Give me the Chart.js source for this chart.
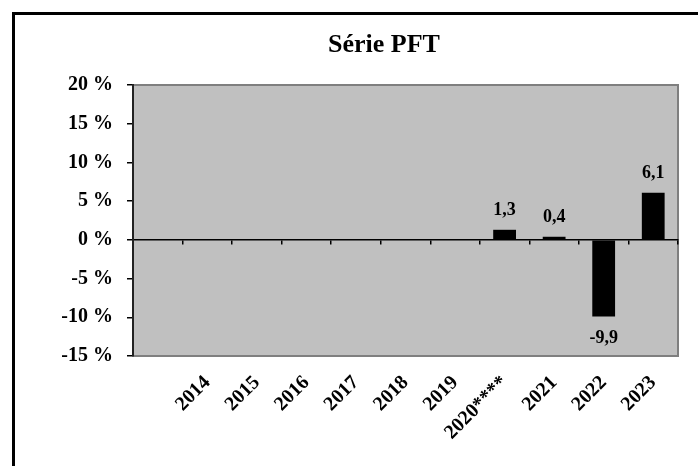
<!DOCTYPE html>
<html>
<head>
<meta charset="utf-8">
<script src="https://cdn.jsdelivr.net/npm/chart.js@4.4.1/dist/chart.umd.min.js"></script>
<style>
  html, body { margin: 0; padding: 0; background: #fff; }
  #wrap { position: relative; width: 698px; height: 466px; overflow: hidden; }
  #frame { position: absolute; left: 12px; top: 12px; width: 800px; height: 800px;
           border-left: 3px solid #000; border-top: 3px solid #000; pointer-events: none; }
  canvas { position: absolute; left: 0; top: 0; }
</style>
</head>
<body>
<div id="wrap">
  <canvas id="c" width="698" height="466"></canvas>
  <div id="frame"></div>
</div>
<script>
const chartTitle = "Série PFT";
const categories = ["", "2014", "2015", "2016", "2017", "2018", "2019", "2020****", "2021", "2022", "2023"];
const pftValues = [null, null, null, null, null, null, null, 1.3, 0.4, -9.9, 6.1];
const yTickValues = [-15, -10, -5, 0, 5, 10, 15, 20];

const serif = "'Liberation Serif', 'Times New Roman', serif";

const plotBg = {
  id: 'plotBg',
  beforeDraw(chart) {
    const a = chart.chartArea, ctx = chart.ctx;
    ctx.save();
    ctx.fillStyle = '#c0c0c0';
    ctx.fillRect(a.left, a.top, a.right - a.left, a.bottom - a.top);
    ctx.strokeStyle = '#7f7f7f';
    ctx.lineWidth = 2;
    ctx.strokeRect(a.left, a.top, a.right - a.left, a.bottom - a.top);
    ctx.restore();
  }
};

const titleText = {
  id: 'titleText',
  afterDraw(chart) {
    const ctx = chart.ctx;
    ctx.save();
    ctx.font = "bold 26px " + serif;
    ctx.fillStyle = '#000';
    ctx.textAlign = 'center';
    ctx.textBaseline = 'alphabetic';
    ctx.fillText(chartTitle, 384, 52);
    ctx.restore();
  }
};

const valueLabels = {
  id: 'valueLabels',
  afterDatasetsDraw(chart) {
    const ctx = chart.ctx;
    const meta = chart.getDatasetMeta(0);
    ctx.save();
    ctx.font = "bold 18px " + serif;
    ctx.fillStyle = '#000';
    ctx.textAlign = 'center';
    ctx.textBaseline = 'middle';
    meta.data.forEach((bar, i) => {
      const v = pftValues[i];
      if (v === null || v === undefined) return;
      const txt = v.toFixed(1).replace('.', ',');
      const y = v >= 0 ? bar.y - 19 : bar.y + 22;
      ctx.fillText(txt, bar.x, y);
    });
    ctx.restore();
  }
};

new Chart(document.getElementById('c'), {
  type: 'bar',
  data: {
    labels: categories,
    datasets: [{
      data: pftValues,
      backgroundColor: '#000',
      borderWidth: 0,
      barPercentage: 0.46,
      categoryPercentage: 1.0
    }]
  },
  options: {
    responsive: false,
    animation: false,
    layout: { padding: { left: 0, right: 20, top: 85, bottom: 0 } },
    plugins: {
      legend: { display: false },
      tooltip: { enabled: false },
      title: { display: false }
    },
    scales: {
      x: {
        type: 'category',
        offset: true,
        grid: { display: false },
        border: { display: false },
        ticks: {
          autoSkip: false,
          minRotation: 45,
          maxRotation: 45,
          padding: 7,
          color: '#000',
          font: { family: serif, size: 20, weight: 'bold' }
        },
        afterFit(scale) { scale.height = 110; }
      },
      x0: {
        type: 'category',
        labels: categories,
        position: { y: 0 },
        offset: true,
        grid: { display: true, drawOnChartArea: false, drawTicks: true, tickLength: 4, color: '#000', lineWidth: 1.5, offset: true },
        border: { display: true, color: '#000', width: 1.5 },
        ticks: { display: false }
      },
      y: {
        min: -15,
        max: 20,
        afterBuildTicks(scale) { scale.ticks = yTickValues.map(v => ({ value: v })); },
        grid: { display: true, drawOnChartArea: false, drawTicks: true, tickLength: 6, color: '#000', lineWidth: 1.5 },
        border: { display: true, color: '#222', width: 2 },
        ticks: {
          padding: 14,
          color: '#000',
          font: { family: serif, size: 20, weight: 'bold' },
          callback: v => v + ' %'
        },
        afterFit(scale) { scale.width = 133; }
      }
    }
  },
  plugins: [plotBg, valueLabels, titleText]
});
</script>
</body>
</html>
